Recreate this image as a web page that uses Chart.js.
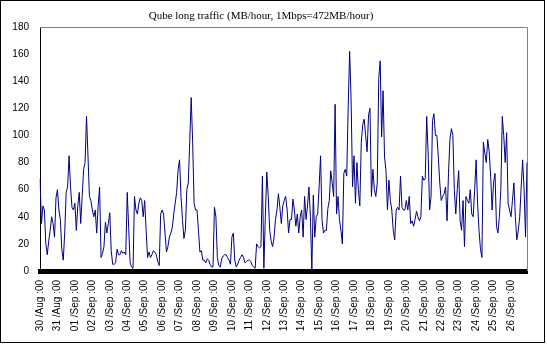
<!DOCTYPE html>
<html>
<head>
<meta charset="utf-8">
<script src="https://cdn.jsdelivr.net/npm/chart.js@4/dist/chart.umd.min.js"></script>
<style>
  html, body { margin: 0; padding: 0; background: #fff; }
  canvas { display: block; }
</style>
</head>
<body>
<canvas id="chart" width="547" height="345"></canvas>
<script>
// one tick label per day (00:00)
const days = [
  '30 /Aug :00', '31 /Aug :00', '01 /Sep :00', '02 /Sep :00', '03 /Sep :00', '04 /Sep :00', '05 /Sep :00',
  '06 /Sep :00', '07 /Sep :00', '08 /Sep :00', '09 /Sep :00', '10 /Sep :00', '11 /Sep :00', '12 /Sep :00',
  '13 /Sep :00', '14 /Sep :00', '15 /Sep :00', '16 /Sep :00', '17 /Sep :00', '18 /Sep :00', '19 /Sep :00',
  '20 /Sep :00', '21 /Sep :00', '22 /Sep :00', '23 /Sep :00', '24 /Sep :00', '25 /Sep :00', '26 /Sep :00'
];
// samples every 2 hours
const hours = [0, 2, 4, 6, 8, 10, 12, 14, 16, 18, 20, 22];

// MB/hour, one row per day
const traffic = [
  68, 35, 48, 45, 20, 12, 22, 30, 40, 35, 25, 54,
  60, 45, 38, 16, 8, 28, 58, 62, 85, 62, 47, 45,
  50, 30, 48, 58, 35, 55, 75, 80, 114, 85, 55, 52,
  45, 40, 45, 28, 48, 62, 10, 13, 18, 36, 28, 35,
  43, 15, 5, 5, 6, 16, 12, 12, 15, 13, 14, 12,
  58, 32, 6, 3, 2, 55, 45, 42, 50, 54, 52, 40,
  52, 30, 10, 14, 10, 12, 15, 14, 12, 7, 4, 42,
  45, 42, 28, 14, 18, 25, 28, 32, 42, 50, 58, 75,
  82, 55, 38, 24, 30, 60, 65, 95, 128, 95, 50, 45,
  45, 30, 14, 15, 8, 8, 6, 9, 8, 5, 3, 3,
  47, 40, 10, 4, 3, 9, 11, 12, 12, 10, 8, 5,
  25, 28, 8, 3, 5, 8, 10, 12, 10, 6, 7, 8,
  8, 7, 4, 3, 2, 20, 18, 17, 18, 70, 2, 40,
  73, 55, 30, 22, 18, 25, 38, 45, 57, 47, 35, 48,
  52, 55, 45, 28, 38, 38, 53, 45, 33, 42, 28, 40,
  45, 25, 55, 38, 48, 62, 40, 0, 56, 25, 40, 42,
  62, 85, 38, 28, 30, 30, 46, 52, 74, 65, 55, 123,
  42, 55, 38, 30, 20, 72, 75, 70, 121, 162, 126, 62,
  85, 50, 80, 60, 48, 95, 108, 112, 100, 88, 115, 120,
  55, 75, 60, 55, 65, 142, 155, 99, 133, 84, 74, 45,
  67, 52, 45, 30, 23, 45, 47, 45, 70, 47, 45, 45,
  52, 45, 55, 35, 37, 33, 38, 44, 40, 37, 40, 70,
  67, 68, 114, 87, 45, 55, 111, 116, 100, 100, 84, 65,
  52, 55, 57, 62, 37, 72, 97, 105, 100, 60, 42, 60,
  74, 37, 30, 52, 18, 55, 52, 50, 60, 42, 40, 60,
  82, 50, 30, 16, 10, 95, 87, 80, 97, 88, 70, 45,
  65, 72, 33, 28, 40, 60, 114, 100, 80, 102, 50, 45,
  40, 52, 65, 40, 23, 30, 40, 62, 82, 60, 25, 80
];

const labels = [];
days.forEach(d => hours.forEach(h => labels.push(d.slice(0, 7) + ' ' + String(h).padStart(2, '0') + ':00')));

// frame, plot border and title
const frame = {
  id: 'frame',
  beforeDatasetsDraw(c) {
    const { ctx, chartArea: a } = c;
    ctx.save();
    ctx.strokeStyle = '#808080';
    ctx.lineWidth = 1;
    ctx.beginPath();
    ctx.moveTo(a.left, Math.round(a.top) + 0.5);
    ctx.lineTo(Math.round(a.right) + 0.5, Math.round(a.top) + 0.5);
    ctx.lineTo(Math.round(a.right) + 0.5, a.bottom);
    ctx.stroke();
    ctx.restore();
  },
  afterDraw(c) {
    const ctx = c.ctx;
    ctx.save();
    ctx.strokeStyle = '#000';
    ctx.lineWidth = 1;
    ctx.strokeRect(0.5, 0.5, 544, 342);
    ctx.fillStyle = '#000';
    ctx.font = '11px "Liberation Serif"';
    ctx.textAlign = 'center';
    ctx.textBaseline = 'alphabetic';
    ctx.fillText('Qube long traffic (MB/hour, 1Mbps=472MB/hour)', 261, 19);
    ctx.restore();
  }
};

new Chart(document.getElementById('chart'), {
  type: 'line',
  data: {
    labels: labels,
    datasets: [{
      data: traffic,
      borderColor: '#000080',
      borderWidth: 1,
      pointRadius: 0,
      tension: 0,
      fill: false
    }]
  },
  options: {
    responsive: false,
    animation: false,
    layout: { padding: { top: 27, right: 20, left: 0, bottom: 0 } },
    plugins: { legend: { display: false }, tooltip: { enabled: false }, title: { display: false } },
    scales: {
      x: {
        type: 'category',
        offset: false,
        grid: { display: false, drawTicks: false },
        border: { color: '#000', width: 5 },
        ticks: {
          autoSkip: false,
          minRotation: 90,
          maxRotation: 90,
          padding: 9,
          color: '#000',
          font: { family: '"Liberation Sans"', size: 10 },
          callback: (v, i) => i % hours.length === 0 ? days[i / hours.length] : null
        },
        afterFit: s => { s.height = 74; }
      },
      y: {
        min: 0,
        max: 180,
        grid: { display: false, drawTicks: false },
        border: { color: '#000', width: 1 },
        ticks: {
          stepSize: 20,
          padding: 11,
          color: '#000',
          font: { family: '"Liberation Sans"', size: 10 }
        },
        afterFit: s => { s.width = 40; }
      }
    }
  },
  plugins: [frame]
});
</script>
</body>
</html>
